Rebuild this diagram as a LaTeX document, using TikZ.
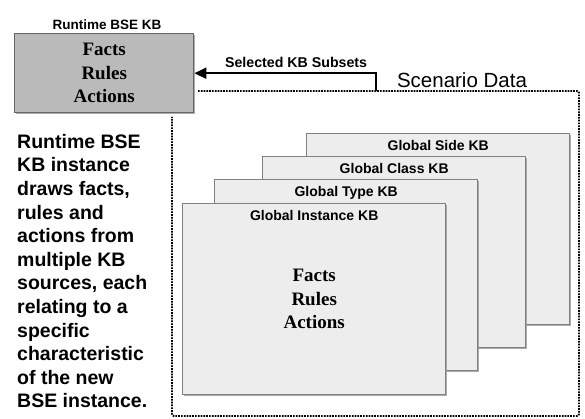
\documentclass[tikz,border=0pt]{standalone}
\usepackage{fontspec}
\setmainfont{Liberation Sans}
\newfontfamily\kbserif{Liberation Serif}
\usetikzlibrary{positioning,arrows.meta,shadows}

\begin{document}
\begin{tikzpicture}[x=1pt, y=-1pt,
every node/.style={inner sep=0pt, font=\bfseries},
kbbox/.style={draw=black!50, line width=1.4pt, fill=black!7, anchor=north west,
    minimum width=263pt, minimum height=191pt,
    drop shadow={shadow xshift=1.5pt, shadow yshift=-1.5pt, fill=black!40, opacity=.8}},
kbtitle/.style={anchor=base, font=\bfseries\fontsize{14}{16}\selectfont},
frtext/.style={align=center, font=\kbserif\bfseries\fontsize{19}{23.5}\selectfont}
]
\useasboundingbox (0,0) rectangle (585,419);

% scenario data frame
\draw [line width=1.9pt, black, dash pattern=on 1.7pt off 1.1pt, rounded corners=2pt]
    (198,91) -- (579,91) -- (579,416) -- (172,416) -- (172,117);
\node [anchor=base, font=\mdseries\fontsize{20.5}{24}\selectfont] (scen) at (462,88) {Scenario Data};

% KB sources, back to front
\foreach \n/\x/\y/\t in {side/306/133/Side, class/262/156/Class,%
                         type/214/179/Type, inst/182/203/Instance}{
    \node [kbbox] (kb-\n) at (\x,\y) {};
    \node [kbtitle] (kbt-\n) at ([yshift=-18pt]kb-\n.north) {Global \t\ KB};
}
\node [frtext] (inst-frt) at (kb-inst.center) {Facts\\Rules\\Actions};

% runtime KB
\node [draw=black!60, line width=1.4pt, fill=black!27, anchor=north west,
    minimum width=179pt, minimum height=79pt,
    drop shadow={shadow xshift=1.5pt, shadow yshift=-1.5pt, fill=black!40, opacity=.8}]
    (runtime) at (14,33) {};
\node [frtext] (run-frt) at (runtime.center) {Facts\\Rules\\Actions};
\node [anchor=base, font=\bfseries\fontsize{13.5}{16}\selectfont] (run-lbl) at (107,29.5) {Runtime BSE KB};

\coordinate (sel) at (376,91);
\draw [line width=2.4pt, -{Triangle[length=12pt,width=11pt]}] (sel) |- (runtime.east)
    node [pos=.72, above=4.5pt, font=\bfseries\fontsize{14.2}{16}\selectfont] (sel-lbl) {Selected KB Subsets};

\node [anchor=north west, align=left, font=\bfseries\fontsize{19.5}{23.6}\selectfont] (note) at (17,134)
    {Runtime BSE\\KB instance\\draws facts,\\rules and\\actions from\\multiple KB\\sources, each\\relating to a\\specific\\characteristic\\of the new\\BSE instance.};

\end{tikzpicture}
\end{document}
